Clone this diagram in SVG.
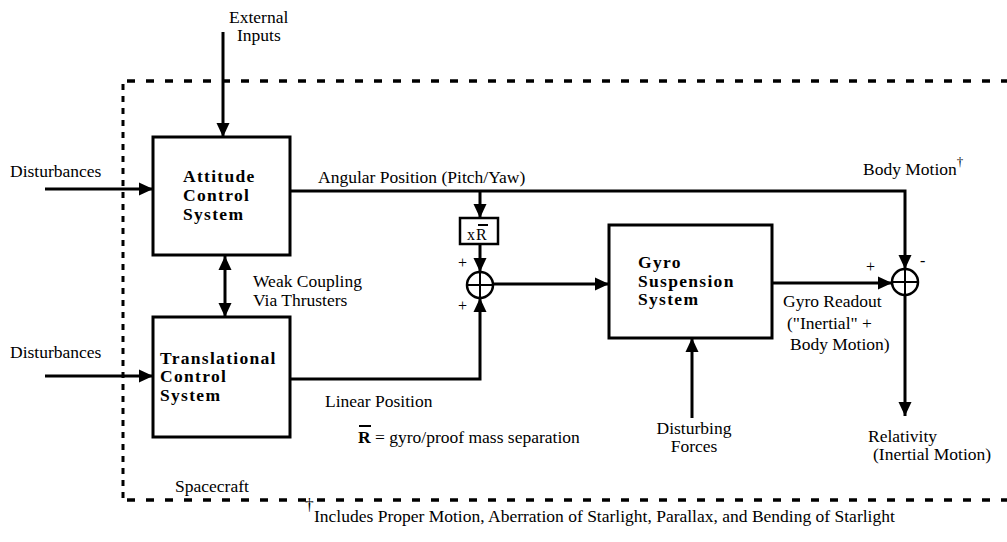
<svg xmlns="http://www.w3.org/2000/svg" width="1007" height="542" viewBox="0 0 1007 542">
<style>
  text { font-family: "Liberation Serif", "DejaVu Serif", "Noto Serif", "Times New Roman", Times, serif; fill: #000; }
  .lbl { font-size: 17.5px; }
  .sm { font-size: 16px; }
  .box-t { font-size: 17.5px; font-weight: bold; letter-spacing: 1.3px; }
  .box { fill: #fff; stroke: #000; stroke-width: 3; }
  .wire { fill: none; stroke: #000; stroke-width: 3; }
  .sum { fill: #fff; stroke: #000; stroke-width: 2.5; }
  .dash-h { fill: none; stroke: #000; stroke-width: 3.5; stroke-dasharray: 8 11; }
  .dash-v { fill: none; stroke: #000; stroke-width: 3; stroke-dasharray: 6 6; }
</style>
<defs>
  <marker id="ah" markerUnits="userSpaceOnUse" markerWidth="16" markerHeight="16" refX="14" refY="8" orient="auto-start-reverse">
    <path d="M0,1.5 L14,8 L0,14.5 z" fill="#000"/>
  </marker>
</defs>
<rect width="1007" height="542" fill="#fff"/>

<!-- Spacecraft boundary -->
<g id="spacecraft-boundary">
  <path class="dash-h" d="M127,81 H1007"/>
  <path class="dash-h" d="M127,500 H1007"/>
  <path class="dash-v" d="M123,84 V498"/>
  <text class="lbl" x="175" y="492">Spacecraft</text>
</g>

<!-- Connectors -->
<g id="connectors">
  <path class="wire" d="M223,32 V137" marker-end="url(#ah)"/>
  <path class="wire" d="M45,189 H153" marker-end="url(#ah)"/>
  <path class="wire" d="M45,376 H153" marker-end="url(#ah)"/>
  <path class="wire" d="M225,256 V317" marker-start="url(#ah)" marker-end="url(#ah)"/>
  <path class="wire" d="M290,191 H905 V269" marker-end="url(#ah)"/>
  <path class="wire" d="M480,191 V218" marker-end="url(#ah)"/>
  <path class="wire" d="M480,244 V272" marker-end="url(#ah)"/>
  <path class="wire" d="M290,379 H480 V298" marker-end="url(#ah)"/>
  <path class="wire" d="M493,284 H609" marker-end="url(#ah)"/>
  <path class="wire" d="M772,283 H892" marker-end="url(#ah)"/>
  <path class="wire" d="M905,295 V416" marker-end="url(#ah)"/>
  <path class="wire" d="M692,418 V338" marker-end="url(#ah)"/>
</g>

<!-- Nodes -->
<g id="attitude-control">
  <rect class="box" x="153" y="137" width="137" height="118"/>
  <text class="box-t" x="183" y="182">Attitude</text>
  <text class="box-t" x="183" y="201">Control</text>
  <text class="box-t" x="183" y="220">System</text>
</g>

<g id="translational-control">
  <rect class="box" x="153" y="317" width="137" height="120"/>
  <text class="box-t" x="160" y="364" letter-spacing="1">Translational</text>
  <text class="box-t" x="160" y="382">Control</text>
  <text class="box-t" x="160" y="401">System</text>
</g>

<g id="r-multiplier">
  <rect x="460" y="218" width="38" height="26" fill="#fff" stroke="#000" stroke-width="2.5"/>
  <text class="sm" x="467" y="240">x</text>
  <text class="sm" x="476" y="240">R</text>
  <path d="M478,225 H488" stroke="#000" stroke-width="2"/>
</g>

<g id="sum-1">
  <circle class="sum" cx="480" cy="285" r="13"/>
  <path d="M467,285 H493 M480,272 V298" stroke="#000" stroke-width="2"/>
  <text class="sm" x="458" y="268">+</text>
  <text class="sm" x="458" y="311">+</text>
</g>

<g id="gyro-suspension">
  <rect class="box" x="609" y="225" width="163" height="113"/>
  <text class="box-t" x="638" y="268" letter-spacing="1.8">Gyro</text>
  <text class="box-t" x="638" y="287" letter-spacing="1.8">Suspension</text>
  <text class="box-t" x="638" y="305" letter-spacing="1.8">System</text>
</g>

<g id="sum-2">
  <circle class="sum" cx="905" cy="282" r="13"/>
  <path d="M892,282 H918 M905,269 V295" stroke="#000" stroke-width="2"/>
  <text class="sm" x="866" y="272">+</text>
  <text class="sm" x="920" y="266">-</text>
</g>

<!-- Labels -->
<g id="labels">
  <text class="lbl" x="229" y="23" font-size="16.5">External</text>
  <text class="lbl" x="237" y="41" font-size="16.5">Inputs</text>
  <text class="lbl" x="10" y="177">Disturbances</text>
  <text class="lbl" x="10" y="358">Disturbances</text>
  <text class="lbl" x="318" y="183">Angular Position (Pitch/Yaw)</text>
  <text class="lbl" x="863" y="175">Body Motion<tspan font-size="13" dy="-9">†</tspan></text>
  <text class="lbl" x="253" y="287">Weak Coupling</text>
  <text class="lbl" x="253" y="306">Via Thrusters</text>
  <text class="lbl" x="325" y="407">Linear Position</text>
  <text class="lbl" x="358" y="443"><tspan font-weight="bold">R</tspan> = gyro/proof mass separation</text>
  <path d="M359,426 H371" stroke="#000" stroke-width="2"/>
  <text class="lbl" x="783" y="307">Gyro Readout</text>
  <text class="lbl" x="787" y="329">("Inertial" +</text>
  <text class="lbl" x="790" y="350">Body Motion)</text>
  <text class="lbl" x="694" y="434" text-anchor="middle">Disturbing</text>
  <text class="lbl" x="694" y="452" text-anchor="middle">Forces</text>
  <text class="lbl" x="868" y="442">Relativity</text>
  <text class="lbl" x="873" y="460">(Inertial Motion)</text>
  <text class="lbl" x="305" y="510" font-size="13">†</text>
  <text class="lbl" x="314" y="522" font-size="16.5">Includes Proper Motion, Aberration of Starlight, Parallax, and Bending of Starlight</text>
</g>
</svg>
